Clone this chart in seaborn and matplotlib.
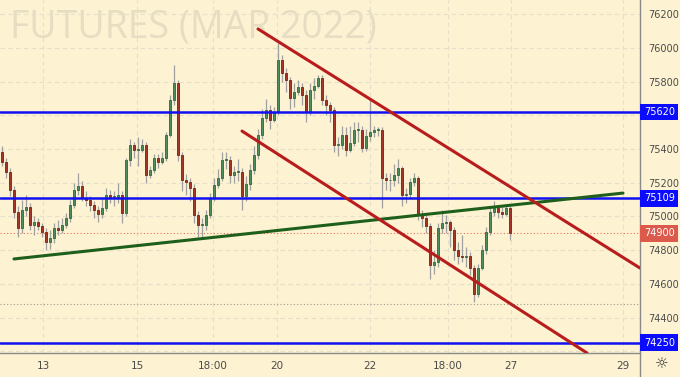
import matplotlib
matplotlib.use("Agg")
import matplotlib.pyplot as plt
import numpy as np
import pandas as pd
import seaborn as sns
from matplotlib.transforms import blended_transform_factory

# ---------------- data ----------------
opens = [75380, 75325, 75265, 75155, 75025, 74930, 75040, 75055, 74950, 74965,
         74945, 74910, 74850, 74870, 74930, 74920, 74950, 74990, 75070, 75155,
         75180, 75110, 75100, 75070, 75040, 75015, 75050, 75130, 75115, 75115,
         75130, 75020, 75335, 75425, 75395, 75395, 75425, 75245, 75275, 75345,
         75325, 75345, 75485, 75690, 75790, 75365, 75215, 75205, 75170, 75010,
         74950, 74950, 75010, 75110, 75185, 75230, 75335, 75335, 75245, 75265,
         75265, 75120, 75195, 75275, 75365, 75485, 75585, 75630, 75575, 75620,
         75930, 75850, 75810, 75705, 75740, 75770, 75720, 75620, 75750, 75775,
         75820, 75690, 75660, 75630, 75425, 75425, 75485, 75395, 75435, 75515,
         75515, 75405, 75480, 75500, 75515, 75515, 75230, 75215, 75215, 75245,
         75290, 75130, 75135, 75205, 75230, 75010, 74990, 74945, 74710, 74730,
         74930, 74960, 74965, 74920, 74800, 74765, 74760, 74765, 74695, 74540,
         74695, 74800, 74910, 75025, 75050, 75025, 75015, 75050]
closes = [75325, 75265, 75155, 75025, 74930, 75040, 75055, 74950, 74965, 74945,
          74910, 74850, 74870, 74930, 74920, 74950, 74990, 75070, 75155, 75180,
          75110, 75100, 75070, 75040, 75015, 75050, 75130, 75115, 75115, 75130,
          75020, 75335, 75425, 75395, 75395, 75425, 75245, 75275, 75345, 75325,
          75345, 75485, 75690, 75790, 75365, 75215, 75205, 75170, 75010, 74950,
          74950, 75010, 75110, 75185, 75230, 75335, 75335, 75245, 75265, 75265,
          75120, 75195, 75275, 75365, 75485, 75585, 75630, 75575, 75620, 75930,
          75850, 75810, 75705, 75740, 75770, 75720, 75620, 75750, 75775, 75820,
          75690, 75660, 75630, 75425, 75425, 75485, 75395, 75435, 75515, 75515,
          75405, 75480, 75500, 75515, 75515, 75230, 75215, 75215, 75245, 75290,
          75130, 75135, 75205, 75230, 75010, 74990, 74945, 74710, 74730, 74930,
          74960, 74965, 74920, 74800, 74765, 74760, 74765, 74695, 74540, 74695,
          74800, 74910, 75025, 75050, 75025, 75015, 75050, 74900]
highs = [75420, 75350, 75290, 75180, 75060, 75100, 75130, 75080, 75000, 74990,
         74960, 74930, 74920, 74960, 74980, 74990, 75020, 75100, 75200, 75260,
         75210, 75150, 75120, 75090, 75060, 75110, 75170, 75160, 75150, 75200,
         75150, 75350, 75460, 75440, 75470, 75460, 75440, 75300, 75370, 75370,
         75380, 75500, 75720, 75900, 75810, 75380, 75250, 75230, 75190, 75030,
         74990, 75040, 75140, 75230, 75280, 75380, 75380, 75360, 75300, 75340,
         75290, 75240, 75310, 75420, 75520, 75640, 75700, 75660, 75650, 76030,
         75960, 75880, 75830, 75790, 75810, 75790, 75750, 75790, 75820, 75840,
         75840, 75720, 75680, 75650, 75470, 75540, 75530, 75540, 75560, 75560,
         75540, 75520, 75690, 75540, 75530, 75530, 75260, 75260, 75310, 75340,
         75300, 75170, 75230, 75260, 75240, 75040, 75010, 74960, 74800, 74960,
         75040, 75010, 74980, 74940, 74850, 74890, 74820, 74790, 74710, 74720,
         74830, 74940, 75060, 75090, 75070, 75060, 75070, 75060]
lows = [75300, 75230, 75120, 74990, 74880, 74900, 75000, 74920, 74890, 74920,
        74880, 74800, 74810, 74840, 74890, 74900, 74930, 74970, 75050, 75130,
        75090, 75060, 75030, 74990, 74970, 74990, 75030, 75080, 75060, 75080,
        74960, 75000, 75300, 75350, 75300, 75380, 75200, 75230, 75260, 75290,
        75310, 75330, 75470, 75660, 75330, 75150, 75130, 75090, 74960, 74880,
        74870, 74920, 74990, 75090, 75170, 75210, 75280, 75200, 75200, 75210,
        75040, 75090, 75160, 75250, 75340, 75460, 75560, 75520, 75560, 75600,
        75800, 75740, 75640, 75650, 75720, 75660, 75560, 75600, 75700, 75760,
        75660, 75600, 75560, 75380, 75360, 75400, 75360, 75380, 75420, 75440,
        75380, 75390, 75450, 75470, 75480, 75050, 75160, 75150, 75180, 75200,
        75060, 75080, 75110, 75180, 74980, 74940, 74900, 74630, 74660, 74700,
        74900, 74900, 74820, 74740, 74720, 74730, 74700, 74650, 74490, 74520,
        74680, 74780, 74890, 75000, 74990, 74990, 75000, 74860]

x_tick_pos = [10.25, 33.75, 52.75, 68.75, 92, 111.5, 127.25, 155.25]
x_tick_labels = ["13", "15", "18:00", "20", "22", "18:00", "27", "29"]
price_ticks = [74200, 74400, 74600, 74800, 75000, 75200, 75400, 75600, 75800, 76000, 76200]
price_tick_labels = ["", "74400", "74600", "74800", "75000", "75200", "75400", "", "75800", "76000", "76200"]
blue_levels = [75620, 75109, 74250]
last_price = 74900
low_marker_level = 74480
green_x = [3, 155.25]
green_y = [74748, 75139]
upper_x = [64, 159.5]
upper_y = [76113, 74694]
lower_x = [60, 146.25]
lower_y = [75507, 74190]
title = "FUTURES (MAR 2022)"

# ---------------- style ----------------
BG = "#fdf3d2"
sns.set_theme(style="whitegrid")
plt.rcParams["font.family"] = ["DejaVu Sans"]

fig = plt.figure(figsize=(6.8, 3.77), dpi=100, facecolor=BG)
ax = fig.add_axes([0, 24 / 377, 640 / 680, 353 / 377])
ax.set_facecolor(BG)

df = pd.DataFrame({"open": opens, "high": highs, "low": lows, "close": closes})
df["idx"] = np.arange(len(df))
up = df["close"] >= df["open"]

# wicks
ax.vlines(df["idx"], df["low"], df["high"], color="#a0a0a0", lw=0.9, zorder=2)
# bodies
body_bottom = np.minimum(df["open"], df["close"])
body_h = np.maximum(np.abs(df["close"] - df["open"]), 4)
ax.bar(df["idx"][up], body_h[up], bottom=body_bottom[up], width=0.72,
       color="#4d8f5f", edgecolor="#2e6640", linewidth=0.6, zorder=3)
ax.bar(df["idx"][~up], body_h[~up], bottom=body_bottom[~up], width=0.72,
       color="#a6352a", edgecolor="#7a1f16", linewidth=0.6, zorder=3)

# horizontal dotted levels
ax.axhline(last_price, color="#e8735a", lw=0.8, ls=(0, (1, 2)), zorder=1.5)
ax.axhline(low_marker_level, color="#9a9a8a", lw=0.8, ls=(0, (1, 2)), zorder=1.5)

# blue levels
for lv in blue_levels:
    ax.axhline(lv, color="#1010f0", lw=1.8, zorder=4)

# trend lines via seaborn
lines = pd.concat([
    pd.DataFrame({"x": green_x, "y": green_y, "name": "green"}),
    pd.DataFrame({"x": upper_x, "y": upper_y, "name": "upper"}),
    pd.DataFrame({"x": lower_x, "y": lower_y, "name": "lower"}),
])
sns.lineplot(data=lines, x="x", y="y", hue="name",
             palette={"green": "#1f5f1c", "upper": "#b81c1c", "lower": "#b81c1c"},
             estimator=None, sort=False, lw=2.2, legend=False, ax=ax, zorder=5)

# watermark
ax.text(0.015, 0.975, title, transform=ax.transAxes, fontsize=27,
        color="#e7ddc2", ha="left", va="top", zorder=0.5, family="Open Sans")

# axes limits & ticks
ax.set_xlim(-0.5, 159.5)
ax.set_ylim(74189.8, 76284.9)
ax.set_xticks(x_tick_pos)
ax.set_xticklabels(x_tick_labels)
ax.set_yticks(price_ticks)
ax.set_yticklabels(price_tick_labels)
ax.yaxis.tick_right()
ax.tick_params(axis="y", length=0, pad=6, labelsize=7, labelcolor="#4a4a4a")
ax.tick_params(axis="x", length=0, pad=6, labelsize=7.5, labelcolor="#4a4a4a")
ax.set_xlabel("")
ax.set_ylabel("")
ax.grid(True, color="#e6dfca", lw=0.8, ls=(0, (4, 3)))
for s in ["top", "left"]:
    ax.spines[s].set_visible(False)
for s in ["right", "bottom"]:
    ax.spines[s].set_color("#8a8a8a")
    ax.spines[s].set_linewidth(1.0)

# price label boxes
tr = blended_transform_factory(ax.transAxes, ax.transData)
for lv in blue_levels:
    ax.text(1.006, lv, f"{lv}", transform=tr, ha="left", va="center",
            fontsize=7, color="white", clip_on=False, zorder=10,
            bbox=dict(boxstyle="square,pad=0.35", fc="#0b0bff", ec="none"))
ax.text(1.006, last_price, f"{last_price}", transform=tr, ha="left", va="center",
        fontsize=7, color="white", clip_on=False, zorder=10,
        bbox=dict(boxstyle="square,pad=0.35", fc="#db5a4c", ec="none"))

# right axis extension line and gear icon
fig.add_artist(plt.Line2D([640 / 680, 640 / 680], [0, 24 / 377], color="#8a8a8a", lw=1.0))
fig.text(662 / 680, 1 - 364 / 377, "\u263c", fontsize=11, color="#333333",
         ha="center", va="center")

fig.savefig("out.png", dpi=100, facecolor=BG)
